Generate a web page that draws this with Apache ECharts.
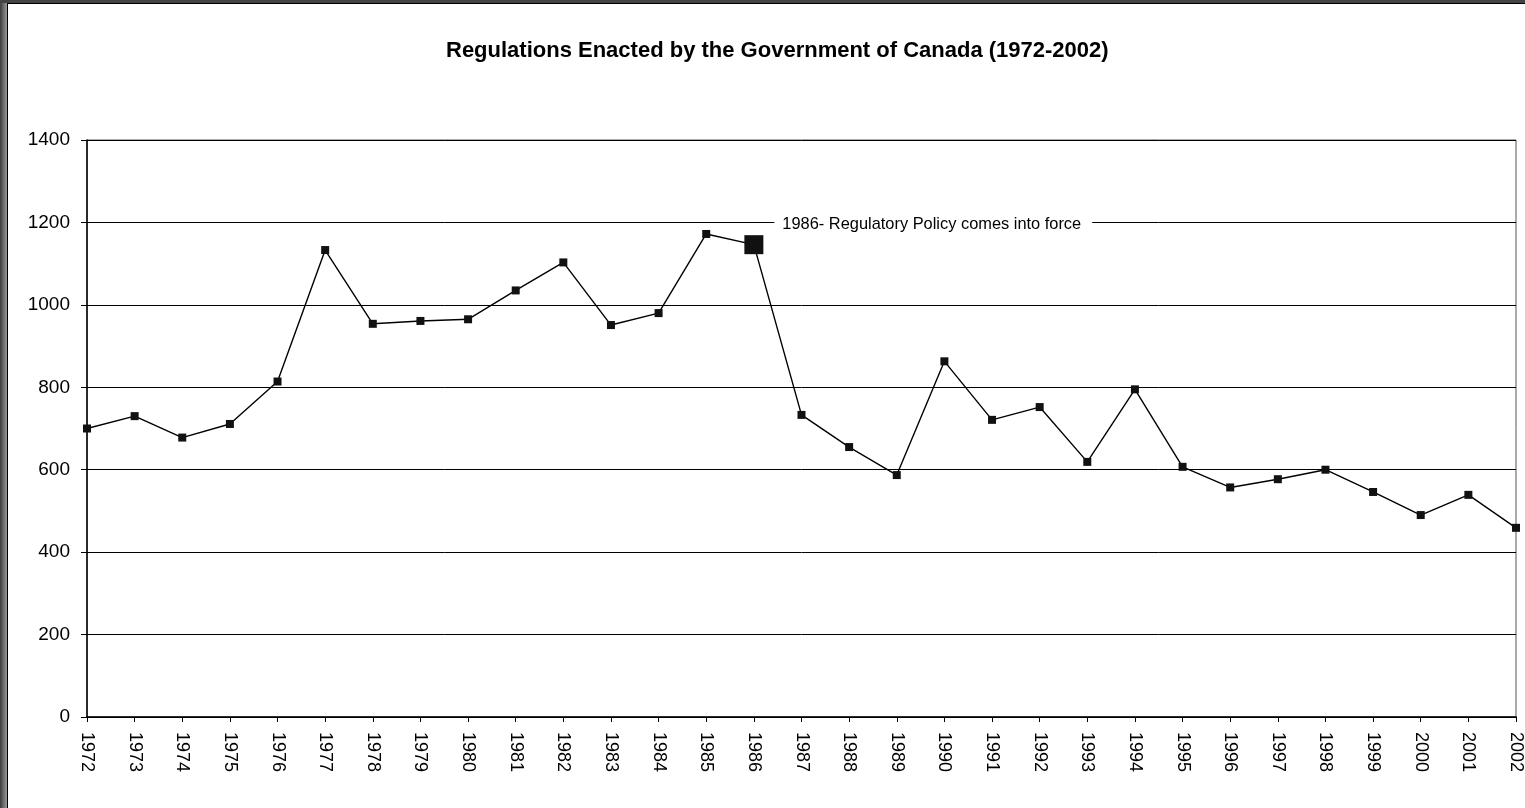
<!DOCTYPE html>
<html>
<head>
<meta charset="utf-8">
<script src="https://cdn.jsdelivr.net/npm/echarts@6/dist/echarts.min.js"></script>
<style>
  html, body { margin: 0; padding: 0; width: 1525px; height: 808px; overflow: hidden; background: #4a4a4a; }
  #leftstrip { position: absolute; left: 0; top: 0; width: 7px; height: 808px; background: linear-gradient(to right, #3c3c3c, #9a9a9a); }
  #topstrip { position: absolute; left: 0; top: 0; width: 1525px; height: 3px; background: #444; }
  #panel { position: absolute; left: 7px; top: 3px; width: 1518px; height: 805px; background: #fff; border-left: 1px solid #000; border-top: 1px solid #000; box-sizing: border-box; }
  #chart { position: absolute; left: 0; top: 0; width: 1525px; height: 808px; }
</style>
</head>
<body>
<div id="leftstrip"></div>
<div id="topstrip"></div>
<div id="panel"></div>
<div id="chart"></div>
<script>
const years = ['1972','1973','1974','1975','1976','1977','1978','1979','1980','1981','1982','1983','1984','1985','1986','1987','1988','1989','1990','1991','1992','1993','1994','1995','1996','1997','1998','1999','2000','2001','2002'];
const regulations = [700, 730, 678, 711, 814, 1133, 954, 961, 965, 1035, 1103, 951, 980, 1172, 1146, 733, 655, 587, 863, 721, 752, 619, 795, 607, 557, 577, 600, 546, 490, 539, 459];
const highlightYear = '1986';
const annotationText = '1986- Regulatory Policy comes into force';
const annotationLevel = 1200;
const titleText = 'Regulations Enacted by the Government of Canada (1972-2002)';

const seriesData = years.map((y, i) => y === highlightYear ? { value: regulations[i], symbolSize: 19 } : regulations[i]);
const FONT = 'Liberation Sans, Arial, sans-serif';

const chart = echarts.init(document.getElementById('chart'), null, { renderer: 'canvas' });
chart.setOption({
  backgroundColor: 'transparent',
  animation: false,
  title: {
    text: titleText,
    left: 441,
    top: 35,
    textStyle: { fontFamily: FONT, fontSize: 22, fontWeight: 'bold', color: '#000' }
  },
  grid: { left: 87, right: 6, top: 140, bottom: 91, show: true, borderColor: '#555', borderWidth: 1, backgroundColor: 'transparent' },
  xAxis: {
    type: 'category',
    data: years,
    boundaryGap: false,
    axisLine: { lineStyle: { color: '#000', width: 1.5 } },
    axisTick: { show: true, length: 5, inside: false, lineStyle: { color: '#000' } },
    axisLabel: { rotate: -90, interval: 0, margin: 15, fontSize: 18, color: '#000', fontFamily: FONT },
    splitLine: { show: false }
  },
  yAxis: {
    type: 'value',
    min: 0, max: 1400, interval: 200,
    axisLine: { show: true, lineStyle: { color: '#000', width: 1.5 } },
    axisTick: { show: true, length: 6, lineStyle: { color: '#000' } },
    axisLabel: { margin: 17, fontSize: 19, color: '#000', fontFamily: FONT, formatter: v => String(v) },
    splitLine: { show: true, lineStyle: { color: '#000', width: 1 } }
  },
  series: [{
    type: 'line',
    data: seriesData,
    symbol: 'rect',
    symbolSize: 8,
    itemStyle: { color: '#111' },
    lineStyle: { color: '#000', width: 1.4 },
    markPoint: {
      symbol: 'rect',
      symbolSize: 1,
      itemStyle: { color: 'transparent' },
      data: [{
        coord: [highlightYear, annotationLevel],
        label: {
          show: true,
          formatter: annotationText,
          position: 'right',
          distance: 20,
          offset: [0, 2],
          backgroundColor: '#fff',
          padding: [0, 11, 0, 8],
          color: '#000',
          fontSize: 16.4,
          fontFamily: FONT
        }
      }]
    }
  }]
});
</script>
</body>
</html>
